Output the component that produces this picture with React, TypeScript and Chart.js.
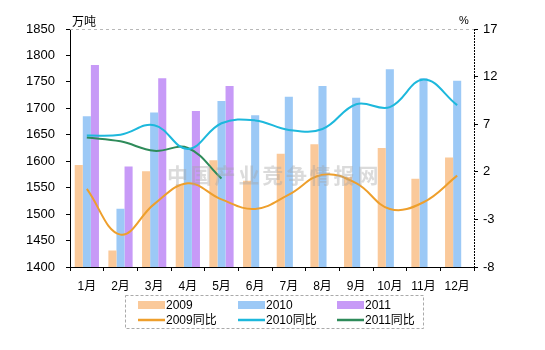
import React, { useEffect, useRef } from "react";
import { Chart, registerables } from "chart.js";

Chart.register(...registerables);

const categories = ["1月", "2月", "3月", "4月", "5月", "6月", "7月", "8月", "9月", "10月", "11月", "12月"];
const output2009 = [1593, 1431, 1581, 1556, 1602, 1563, 1614, 1632, 1570, 1625, 1567, 1607];
const output2010 = [1685, 1510, 1692, 1625, 1714, 1687, 1722, 1742, 1720, 1774, 1757, 1752];
const output2011 = [1782, 1590, 1757, 1695, 1742, null, null, null, null, null, null, null];
const yoy2009 = [0.2, -4.6, -1.4, 0.8, -0.9, -1.9, -0.4, 1.7, 0.8, -1.9, -1.2, 1.6];
const yoy2010 = [5.8, 5.9, 6.9, 4.4, 7.1, 7.4, 6.4, 6.5, 9.1, 8.8, 11.7, 9.0];
const yoy2011 = [5.6, 5.2, 4.2, 4.5, 1.3];
const leftTicks = { min: 1400, max: 1850, step: 50 };
const rightTicks = { min: -8, max: 17, step: 5 };
const leftUnit = "万吨";
const rightUnit = "%";
const watermark = "中国产业竞争情报网";

const FONT = '"Liberation Sans", Arial, "Noto Sans CJK SC", sans-serif';
const C2009 = "#FAC99A";
const C2010 = "#9CC9F6";
const C2011 = "#C79AF7";
const L2009 = "#EE9F2C";
const L2010 = "#1DB8DC";
const L2011 = "#2E8B5A";

const decorPlugin = {
  id: "decor",
  afterDatasetsDraw(chart: any) {
    const ctx = chart.ctx;
    ctx.save();
    ctx.fillStyle = "rgba(165,165,165,0.4)";
    ctx.font = 'bold 21px "Noto Sans CJK SC", sans-serif';
    ctx.textBaseline = "middle";
    ctx.textAlign = "left";
    const chars = Array.from(watermark);
    chars.forEach((ch, i) => ctx.fillText(ch, 167 + i * 23.8, 175));
    ctx.restore();
  },
  afterDraw(chart: any) {
    const ctx = chart.ctx;
    const a = chart.chartArea;
    ctx.save();
    ctx.strokeStyle = "#b8b8b8";
    ctx.lineWidth = 1;
    ctx.setLineDash([3, 3]);
    ctx.beginPath();
    ctx.moveTo(a.left, Math.round(a.top) + 0.5);
    ctx.lineTo(a.right, Math.round(a.top) + 0.5);
    ctx.stroke();
    ctx.strokeStyle = "#000";
    ctx.setLineDash([2, 1]);
    ctx.beginPath();
    ctx.moveTo(Math.round(a.right) + 0.5, a.top);
    ctx.lineTo(Math.round(a.right) + 0.5, a.bottom);
    ctx.stroke();
    ctx.setLineDash([]);

    ctx.fillStyle = "#000";
    ctx.font = '12px "Noto Sans CJK SC", sans-serif';
    ctx.textBaseline = "middle";
    ctx.textAlign = "left";
    ctx.fillText(leftUnit, 72, 21);
    ctx.font = "11px " + FONT;
    ctx.fillText(rightUnit, 459, 21);

    ctx.strokeStyle = "#aaa";
    ctx.setLineDash([3, 2]);
    ctx.strokeRect(125.5, 295.5, 298, 33);
    ctx.setLineDash([]);
    const ds = chart.data.datasets;
    const cols = [138, 238, 337];
    ctx.font = "12px " + FONT;
    ctx.textBaseline = "middle";
    for (let i = 0; i < 3; i++) {
      const bar = ds[i];
      const line = ds[i + 3];
      const x = cols[i];
      ctx.fillStyle = bar.backgroundColor;
      ctx.fillRect(x, 301, 27, 8);
      ctx.fillStyle = "#000";
      ctx.fillText(bar.label, x + 28, 305.5);
      ctx.strokeStyle = line.borderColor;
      ctx.lineWidth = 2.5;
      ctx.beginPath();
      ctx.moveTo(x, 320);
      ctx.lineTo(x + 27, 320);
      ctx.stroke();
      ctx.fillStyle = "#000";
      ctx.fillText(line.label, x + 28, 320.5);
    }
    ctx.restore();
  },
};

export default function App() {
  const ref = useRef<HTMLCanvasElement>(null);
  useEffect(() => {
    document.body.style.margin = "0";
    const canvas = ref.current!;
    const chart = new Chart(canvas, {
      type: "bar",
      data: {
        labels: categories,
        datasets: [
          { type: "bar", label: "2009", data: output2009, backgroundColor: C2009, yAxisID: "y", order: 2, categoryPercentage: 0.72, barPercentage: 1 } as any,
          { type: "bar", label: "2010", data: output2010, backgroundColor: C2010, yAxisID: "y", order: 2, categoryPercentage: 0.72, barPercentage: 1 } as any,
          { type: "bar", label: "2011", data: output2011, backgroundColor: C2011, yAxisID: "y", order: 2, categoryPercentage: 0.72, barPercentage: 1 } as any,
          { type: "line", label: "2009同比", data: yoy2009, borderColor: L2009, borderWidth: 2, pointRadius: 0, tension: 0.4, yAxisID: "y1", order: 1, fill: false } as any,
          { type: "line", label: "2010同比", data: yoy2010, borderColor: L2010, borderWidth: 2, pointRadius: 0, tension: 0.4, yAxisID: "y1", order: 1, fill: false } as any,
          { type: "line", label: "2011同比", data: yoy2011, borderColor: L2011, borderWidth: 2, pointRadius: 0, tension: 0.4, yAxisID: "y1", order: 1, fill: false } as any,
        ],
      },
      options: {
        responsive: false,
        animation: false,
        layout: { padding: { top: 29, left: 0, right: 0, bottom: 0 } },
        plugins: { legend: { display: false }, tooltip: { enabled: false } },
        scales: {
          x: {
            grid: { display: true, drawOnChartArea: false, drawTicks: true, tickLength: 4, tickColor: "#000", offset: true },
            border: { color: "#000", width: 1 },
            ticks: { color: "#000", font: { size: 12, family: FONT }, padding: 8, maxRotation: 0, autoSkip: false },
            afterFit: (s: any) => { s.height = 83; },
          },
          y: {
            position: "left",
            min: leftTicks.min,
            max: leftTicks.max,
            grid: { drawOnChartArea: false, tickLength: 4, tickColor: "#000" },
            border: { color: "#000", width: 1 },
            ticks: { stepSize: leftTicks.step, color: "#000", font: { size: 13, family: FONT }, padding: 11, callback: (v: any) => String(v) },
            afterFit: (s: any) => { s.width = 70; },
          },
          y1: {
            position: "right",
            min: rightTicks.min,
            max: rightTicks.max,
            grid: { drawOnChartArea: false, tickLength: 4, tickColor: "#000" },
            border: { display: false },
            ticks: { stepSize: rightTicks.step, color: "#000", font: { size: 13, family: FONT }, padding: 5, callback: (v: any) => String(v) },
            afterFit: (s: any) => { s.width = 71; },
          },
        },
      } as any,
      plugins: [decorPlugin],
    });
    return () => chart.destroy();
  }, []);
  return <canvas ref={ref} width={545} height={350} style={{ display: "block", width: 545, height: 350 }} />;
}
